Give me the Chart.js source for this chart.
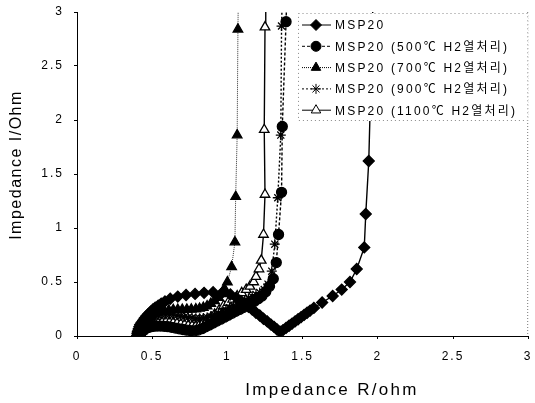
<!DOCTYPE html>
<html lang="ko">
<head>
<meta charset="UTF-8">
<title>Impedance</title>
<style>
    body { margin: 0; background: #fff; }
    #wrap { width: 535px; height: 403px; }
</style>
</head>
<body>
<div id="wrap"><canvas id="chart" width="535" height="403"></canvas></div>
<script src="https://cdn.jsdelivr.net/npm/chart.js"></script>
<script>
// Nyquist plot: x = Impedance R (ohm), y = Impedance I (ohm)
const seriesNames = [
    'MSP20',
    'MSP20 (500℃ H2열처리)',
    'MSP20 (700℃ H2열처리)',
    'MSP20 (900℃ H2열처리)',
    'MSP20 (1100℃ H2열처리)'
];

const xTicks = [0, 0.5, 1, 1.5, 2, 2.5, 3];
const yTicks = [0, 0.5, 1, 1.5, 2, 2.5, 3];

const msp20R = [0.40, 0.402, 0.405, 0.41, 0.415, 0.42, 0.43, 0.44, 0.45, 0.462, 0.475, 0.49, 0.505, 0.52, 0.54, 0.56, 0.585, 0.62, 0.67, 0.725, 0.785, 0.845, 0.905, 0.965, 1.02, 1.06, 1.09, 1.115, 1.14, 1.165, 1.19, 1.215, 1.24, 1.265, 1.29, 1.31, 1.33, 1.35, 1.37, 1.39, 1.41, 1.43, 1.45, 1.47, 1.49, 1.51, 1.53, 1.55, 1.575, 1.63, 1.70, 1.76, 1.815, 1.86, 1.91, 1.92, 1.94, 1.97];
const msp20I = [0.005, 0.025, 0.045, 0.065, 0.085, 0.105, 0.125, 0.145, 0.165, 0.185, 0.205, 0.225, 0.245, 0.262, 0.28, 0.30, 0.32, 0.345, 0.365, 0.38, 0.39, 0.40, 0.405, 0.40, 0.385, 0.355, 0.325, 0.30, 0.27, 0.245, 0.215, 0.19, 0.16, 0.135, 0.105, 0.085, 0.06, 0.04, 0.055, 0.075, 0.095, 0.115, 0.135, 0.155, 0.175, 0.195, 0.215, 0.235, 0.26, 0.31, 0.37, 0.43, 0.50, 0.62, 0.82, 1.13, 1.62, 3.2];

const h500R = [0.42, 0.423, 0.428, 0.435, 0.445, 0.457, 0.472, 0.49, 0.51, 0.533, 0.556, 0.58, 0.605, 0.63, 0.655, 0.68, 0.705, 0.73, 0.755, 0.78, 0.805, 0.83, 0.855, 0.88, 0.905, 0.93, 0.955, 0.98, 1.005, 1.03, 1.055, 1.08, 1.105, 1.13, 1.155, 1.18, 1.205, 1.23, 1.255, 1.28, 1.305, 1.325, 1.34, 1.36, 1.365, 1.39, 1.40];
const h500I = [0.0, 0.018, 0.034, 0.048, 0.06, 0.07, 0.078, 0.085, 0.09, 0.092, 0.092, 0.09, 0.086, 0.08, 0.073, 0.066, 0.06, 0.054, 0.05, 0.048, 0.055, 0.068, 0.085, 0.102, 0.12, 0.138, 0.156, 0.174, 0.192, 0.21, 0.228, 0.246, 0.264, 0.283, 0.302, 0.322, 0.345, 0.37, 0.41, 0.46, 0.53, 0.68, 0.94, 1.33, 1.94, 2.91, 3.4];

const h700R = [0.42, 0.422, 0.426, 0.432, 0.44, 0.45, 0.462, 0.476, 0.492, 0.51, 0.53, 0.555, 0.58, 0.61, 0.64, 0.67, 0.70, 0.73, 0.76, 0.79, 0.815, 0.84, 0.865, 0.89, 0.915, 0.94, 0.96, 0.98, 1.0, 1.028, 1.05, 1.055, 1.065, 1.07, 1.075];
const h700I = [0.0, 0.025, 0.05, 0.075, 0.10, 0.123, 0.145, 0.166, 0.185, 0.202, 0.215, 0.226, 0.234, 0.239, 0.242, 0.244, 0.245, 0.246, 0.247, 0.25, 0.255, 0.264, 0.278, 0.30, 0.325, 0.355, 0.39, 0.44, 0.50, 0.64, 0.87, 1.29, 1.86, 2.84, 3.4];

const h900R = [0.42, 0.422, 0.426, 0.432, 0.44, 0.45, 0.462, 0.477, 0.495, 0.515, 0.54, 0.565, 0.59, 0.615, 0.64, 0.665, 0.69, 0.715, 0.74, 0.765, 0.79, 0.815, 0.84, 0.865, 0.89, 0.915, 0.94, 0.965, 0.99, 1.015, 1.04, 1.065, 1.09, 1.115, 1.14, 1.165, 1.19, 1.215, 1.245, 1.27, 1.295, 1.315, 1.335, 1.355, 1.36, 1.37];
const h900I = [0.0, 0.025, 0.05, 0.075, 0.10, 0.122, 0.142, 0.16, 0.174, 0.185, 0.193, 0.198, 0.20, 0.199, 0.196, 0.191, 0.185, 0.179, 0.173, 0.168, 0.165, 0.165, 0.167, 0.172, 0.18, 0.195, 0.21, 0.227, 0.244, 0.261, 0.278, 0.295, 0.312, 0.33, 0.348, 0.366, 0.384, 0.402, 0.43, 0.48, 0.60, 0.85, 1.28, 1.86, 2.87, 3.4];

const h1100R = [0.42, 0.425, 0.432, 0.442, 0.455, 0.47, 0.49, 0.515, 0.54, 0.565, 0.59, 0.615, 0.64, 0.665, 0.69, 0.715, 0.74, 0.765, 0.79, 0.815, 0.84, 0.865, 0.89, 0.915, 0.945, 0.975, 1.005, 1.035, 1.065, 1.095, 1.125, 1.15, 1.175, 1.19, 1.21, 1.225, 1.24, 1.25, 1.245, 1.25, 1.255];
const h1100I = [0.0, 0.022, 0.043, 0.062, 0.079, 0.093, 0.106, 0.116, 0.123, 0.128, 0.13, 0.128, 0.124, 0.118, 0.111, 0.104, 0.098, 0.094, 0.094, 0.105, 0.125, 0.145, 0.17, 0.20, 0.24, 0.28, 0.31, 0.34, 0.37, 0.40, 0.43, 0.46, 0.50, 0.55, 0.62, 0.70, 0.94, 1.31, 1.91, 2.86, 3.4];

const latin = '"Liberation Sans", Arial, sans-serif';
const korean = '"Liberation Sans", Arial, "Noto Sans CJK KR", sans-serif';

function pts(xs, ys) {
    return xs.map((x, i) => ({ x: x, y: ys[i] }));
}

const datasets = [
    { label: seriesNames[0], data: pts(msp20R, msp20I), pointStyle: 'rectRot', pointRadius: 5.5,
      backgroundColor: '#000', borderColor: '#000', borderWidth: 1.4, order: 0 },
    { label: seriesNames[1], data: pts(h500R, h500I), pointStyle: 'circle', pointRadius: 5,
      backgroundColor: '#000', borderColor: '#000', borderWidth: 1.4, borderDash: [3, 2], order: 2 },
    { label: seriesNames[2], data: pts(h700R, h700I), pointStyle: 'triangle', pointRadius: 5.5,
      backgroundColor: '#000', borderColor: '#333', borderWidth: 1, borderDash: [1, 1], order: 1 },
    { label: seriesNames[3], data: pts(h900R, h900I), pointStyle: 'star', pointRadius: 5,
      backgroundColor: '#000', borderColor: '#000', borderWidth: 1.4, borderDash: [2, 2], order: 3 },
    { label: seriesNames[4], data: pts(h1100R, h1100I), pointStyle: 'triangle', pointRadius: 5.5,
      backgroundColor: '#fff', borderColor: '#000', borderWidth: 1.4, order: 4 }
];
datasets.forEach(d => {
    d.pointBackgroundColor = d.backgroundColor;
    d.pointBorderColor = '#000';
    d.pointBorderWidth = 1.3;
    d.showLine = true;
    d.fill = false;
    d.tension = 0;
});

// spaced-out lettering like the scanned figure
const spacing = {
    id: 'spacing',
    beforeDraw(chart) {
        chart.ctx.letterSpacing = '2px';
    }
};

// dotted right edge of the plot area
const frame = {
    id: 'frame',
    beforeDatasetsDraw(chart) {
        const a = chart.chartArea, ctx = chart.ctx;
        ctx.save();
        ctx.strokeStyle = '#777';
        ctx.lineWidth = 1;
        ctx.setLineDash([1, 2]);
        ctx.beginPath();
        ctx.moveTo(a.right - 0.5, a.top);
        ctx.lineTo(a.right - 0.5, a.bottom);
        ctx.stroke();
        ctx.restore();
    }
};

const axisTitles = {
    id: 'axisTitles',
    afterDraw(chart) {
        const a = chart.chartArea, ctx = chart.ctx;
        ctx.save();
        ctx.fillStyle = '#000';
        ctx.textAlign = 'center';
        ctx.textBaseline = 'middle';
        ctx.letterSpacing = '2.3px';
        ctx.font = '17px ' + latin;
        ctx.fillText('Impedance R/ohm', a.left + 255, a.bottom + 54);
        ctx.letterSpacing = '1.5px';
        ctx.font = '16px ' + latin;
        ctx.translate(17, a.top + 153);
        ctx.rotate(-Math.PI / 2);
        ctx.fillText('Impedance I/Ohm', 0, 0);
        ctx.restore();
    }
};

// boxed legend inside the upper right of the plot
const boxLegend = {
    id: 'boxLegend',
    afterDraw(chart) {
        const a = chart.chartArea, ctx = chart.ctx;
        const left = a.left + 221, top = a.top + 1, right = a.right, bottom = a.top + 109;
        ctx.save();
        ctx.fillStyle = '#fff';
        ctx.fillRect(left, top, right - left, bottom - top);
        ctx.strokeStyle = '#888';
        ctx.lineWidth = 1;
        ctx.setLineDash([1, 3]);
        ctx.strokeRect(left + 0.5, top + 0.5, right - left - 1, bottom - top - 1);
        ctx.setLineDash([]);
        ctx.font = '12px ' + korean;
        ctx.letterSpacing = '2.2px';
        ctx.textBaseline = 'middle';
        chart.data.datasets.forEach((d, i) => {
            const y = top + 12 + i * 21.3;
            ctx.strokeStyle = '#000';
            ctx.lineWidth = 1;
            ctx.setLineDash(d.borderDash || []);
            ctx.beginPath();
            ctx.moveTo(left + 4, y);
            ctx.lineTo(left + 33, y);
            ctx.stroke();
            ctx.setLineDash([]);
            ctx.fillStyle = d.pointBackgroundColor;
            Chart.helpers.drawPoint(ctx, {
                pointStyle: d.pointStyle, radius: d.pointRadius, rotation: 0, borderWidth: 1.2
            }, left + 18, y);
            ctx.fillStyle = '#000';
            ctx.fillText(d.label, left + 37, y + 1);
        });
        ctx.restore();
    }
};

new Chart(document.getElementById('chart'), {
    type: 'scatter',
    data: { datasets: datasets },
    options: {
        responsive: false,
        animation: false,
        layout: { padding: { top: 12, right: 2, left: 0, bottom: 0 } },
        plugins: {
            legend: { display: false },
            tooltip: { enabled: false }
        },
        scales: {
            x: {
                type: 'linear', min: 0, max: 3,
                afterBuildTicks: s => { s.ticks = xTicks.map(v => ({ value: v })); },
                afterFit: s => { s.height = 67; s.paddingLeft = 0; s.paddingRight = 0; },
                ticks: { color: '#000', font: { family: latin, size: 12 }, padding: 10, maxRotation: 0,
                         callback: v => String(v) },
                grid: { drawOnChartArea: false, tickLength: 3, color: '#000' },
                border: { color: '#000', width: 1 }
            },
            y: {
                type: 'linear', min: 0, max: 3,
                afterBuildTicks: s => { s.ticks = yTicks.map(v => ({ value: v })); },
                afterFit: s => { s.width = 77; s.paddingTop = 0; s.paddingBottom = 0; },
                ticks: { color: '#000', font: { family: latin, size: 12 }, padding: 10,
                         callback: v => String(v) },
                grid: { drawOnChartArea: false, tickLength: 3, color: '#000' },
                border: { color: '#000', width: 1 }
            }
        }
    },
    plugins: [spacing, frame, axisTitles, boxLegend]
});
</script>
</body>
</html>
